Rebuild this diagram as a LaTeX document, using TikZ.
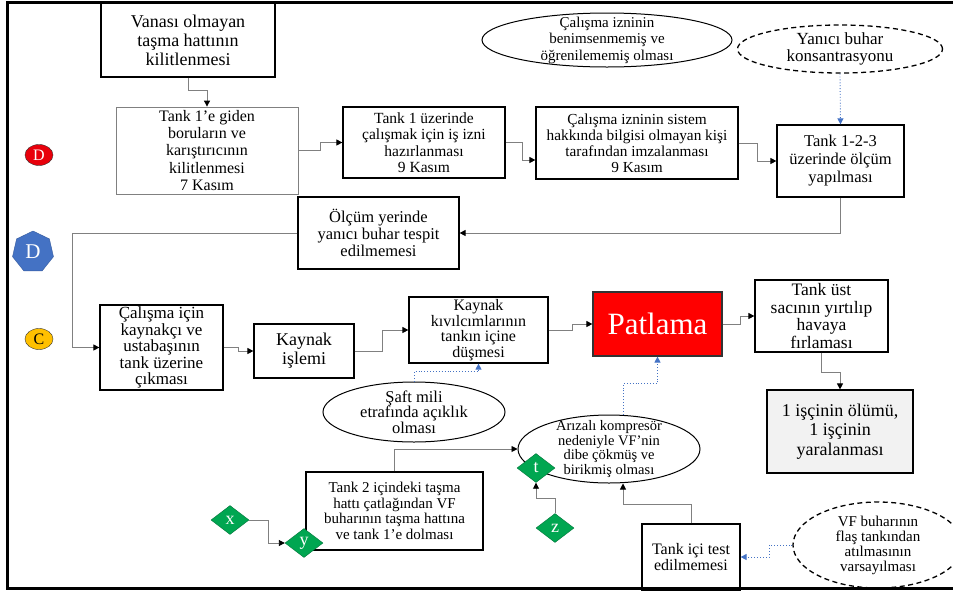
\documentclass[tikz,border=0pt]{standalone}
\usepackage{fontspec}
\setmainfont{Liberation Serif}
\usepackage{xcolor}
\usepackage{tikz}
\usetikzlibrary{shapes.geometric, arrows, arrows.meta}
\definecolor{linegray}{HTML}{808080}
\definecolor{arrowblue}{HTML}{4472C4}
\definecolor{boomred}{HTML}{FF0000}
\definecolor{markred}{HTML}{E8000B}
\definecolor{markyellow}{HTML}{FFC000}
\definecolor{markgreen}{HTML}{00A651}
\definecolor{harmgray}{HTML}{F2F2F2}
\newcommand{\sz}[2]{\fontsize{#1}{#2}\selectfont}
\tikzstyle{event} = [rectangle,
                     draw=black,
                     line width=1.2pt,
                     align=center,
                     inner sep=0pt,
                    ]
\tikzstyle{cause} = [ellipse,
                     draw=black,
                     line width=1pt,
                     align=center,
                     inner xsep=0pt,
                     inner ysep=-25pt,
                    ]
\tikzstyle{assumed} = [cause,
                       line width=1.3pt,
                       dash pattern=on 5pt off 3.5pt,
                      ]
\tikzstyle{letter} = [diamond,
                      fill=markgreen,
                      draw=markgreen!70!black,
                      text=white,
                      minimum width=38pt,
                      minimum height=29pt,
                      inner sep=0pt,
                      font=\sz{18}{18},
                     ]
\tikzstyle{marker} = [ellipse,
                      draw=black!80,
                      minimum width=28pt,
                      minimum height=21pt,
                      inner sep=0pt,
                      font=\sz{16}{16},
                     ]
\tikzstyle{arrow} = [draw=linegray, line width=0.9pt, -{Triangle[length=6pt,width=6pt,color=black]}]
\tikzstyle{bluearrow} = [draw=arrowblue, line width=0.9pt, dotted, -{Triangle[length=6pt,width=6pt]}]

\begin{document}
\begin{tikzpicture}[x=1pt, y=-1pt]
\useasboundingbox (0,0) rectangle (953,592);

\node (vana) [event, minimum width=174pt, minimum height=74pt, font=\sz{18}{19}] at (188,40) {Vanası olmayan\\taşma hattının\\kilitlenmesi};
\node (pipes) [event, draw=black!50, line width=0.8pt, minimum width=182pt, minimum height=87pt, font=\sz{16}{17.2}] at (207,150.5) {Tank 1’e giden\\boruların ve\\karıştırıcının\\kilitlenmesi\\7 Kasım};
\node (permit) [event, minimum width=162pt, minimum height=71pt, font=\sz{15.5}{16.5}] at (424,142.5) {Tank 1 üzerinde\\çalışmak için iş izni\\hazırlanması\\9 Kasım};
\node (sign) [event, minimum width=202pt, minimum height=72pt, font=\sz{15.3}{16}] at (637,143) {Çalışma izninin sistem\\hakkında bilgisi olmayan kişi\\tarafından imzalanması\\9 Kasım};
\node (measure) [event, minimum width=127pt, minimum height=72pt, font=\sz{16.5}{18}] at (840.5,161) {Tank 1-2-3\\üzerinde ölçüm\\yapılması};
\node (notdet) [event, minimum width=161pt, minimum height=72pt, font=\sz{16.5}{17}] at (378.5,233) {Ölçüm yerinde\\yanıcı buhar tespit\\edilmemesi};
\node (climb) [event, minimum width=123pt, minimum height=85pt, font=\sz{17}{16.5}] at (161.5,347.5) {Çalışma için\\kaynakçı ve\\ustabaşının\\tank üzerine\\çıkması};
\node (weld) [event, minimum width=100pt, minimum height=54pt, font=\sz{18}{19}] at (304,351) {Kaynak\\işlemi};
\node (spark) [event, minimum width=139pt, minimum height=66pt, font=\sz{16}{15.5}] at (478.5,330) {Kaynak\\kıvılcımlarının\\tankın içine\\düşmesi};
\node (boom) [event, fill=boomred, draw=black!80, minimum width=129pt, minimum height=64pt, text=white, font=\sz{31}{31}] at (657.5,324) {Patlama};
\node (lid) [event, minimum width=133pt, minimum height=72pt, font=\sz{17.5}{17.5}] at (821.5,316) {Tank üst\\sacının yırtılıp\\havaya\\fırlaması};
\node (harm) [event, fill=harmgray, minimum width=146pt, minimum height=83pt, font=\sz{18}{19.5}] at (840,431.5) {1 işçinin ölümü,\\1 işçinin\\yaralanması};
\node (vfline) [event, line width=1.5pt, minimum width=177pt, minimum height=78pt, font=\sz{15}{15.5}] at (394.5,511) {Tank 2 içindeki taşma\\hattı çatlağından VF\\buharının taşma hattına\\ve tank 1’e dolması};
\node (notest) [event, minimum width=98pt, minimum height=66pt, font=\sz{16}{16}] at (691,557) {Tank içi test\\edilmemesi};

\node (adopt) [cause, minimum width=250pt, minimum height=54pt, font=\sz{15}{16.5}] at (607,40) {Çalışma izninin\\benimsenmemiş ve\\öğrenilememiş olması};
\node (vapor) [assumed, minimum width=205pt, minimum height=48pt, font=\sz{17}{17}] at (840,49) {Yanıcı buhar\\konsantrasyonu};
\node (shaft) [cause, minimum width=182pt, minimum height=60pt, font=\sz{16.5}{15.5}] at (414,412) {Şaft mili\\etrafında açıklık\\olması};
\node (comp) [cause, minimum width=182pt, minimum height=68pt, font=\sz{14.5}{14.5}] at (609,449) {Arızalı kompresör\\nedeniyle VF’nin\\dibe çökmüş ve\\birikmiş olması};
\node (assume) [assumed, minimum width=170pt, minimum height=86pt, font=\sz{15}{15}] at (878,545) {VF buharının\\flaş tankından\\atılmasının\\varsayılması};

\draw [arrow] (vana.south) -- ++(0,13) -| (pipes.north);
\draw [arrow] (pipes.east) -- ++(22,0) |- (permit.west);
\draw [arrow] (permit.east) -- ++(17,0) |- ([yshift=-17pt]sign.west);
\draw [arrow] (sign.east) -- ++(19,0) |- (measure.west);
\draw [bluearrow] (vapor.south) -- (measure.north);
\draw [arrow] (measure.south) |- (notdet.east);
\draw [arrow] (notdet.west) -- ++(-225,0) |- (climb.west);
\draw [arrow] (climb.east) -- ++(15,0) |- (weld.west);
\draw [arrow] (weld.east) -- ++(28,0) |- (spark.west);
\draw [arrow] (spark.east) -- ++(24,0) |- (boom.west);
\draw [arrow] (boom.east) -- ++(18,0) |- (lid.west);
\draw [arrow] (lid.south) -- ++(0,20) -| (harm.north);
\draw [bluearrow] (shaft.north) -- ++(0,-10) -| (spark.south);
\draw [bluearrow] ([xshift=14pt]comp.north) -- ++(0,-31) -| (boom.south);
\draw [bluearrow] (assume.west) -- ++(-23,0) |- (notest.east);
\draw [arrow] (vfline.north) |- (comp.west);
\draw [arrow] (notest.north) -- ++(0,-19) -| ([xshift=14pt]comp.south);

\node (d_x) [letter] at (230,520) {x};
\node (d_y) [letter] at (304,543) {y};
\node (d_t) [letter] at (536,468) {t};
\node (d_z) [letter] at (555,528) {z};
\draw [arrow] (d_x.east) -- ++(19,0) |- (d_y.west);
\draw [arrow] (d_z.north) -- ++(0,-15) -| (d_t.south);

\node (m_red) [marker, fill=markred, text=white] at (39,155) {D};
\node (m_blue) [regular polygon, regular polygon sides=7, minimum size=42pt, inner sep=0pt, fill=arrowblue, draw=arrowblue!80!black, text=white, font=\sz{21}{21}] at (33,252) {D};
\node (m_yel) [marker, fill=markyellow] at (39,339) {C};

\draw [line width=3pt] (953,2) -- (7,2) -- (7,588) -- (953,588);

\end{tikzpicture}
\end{document}
